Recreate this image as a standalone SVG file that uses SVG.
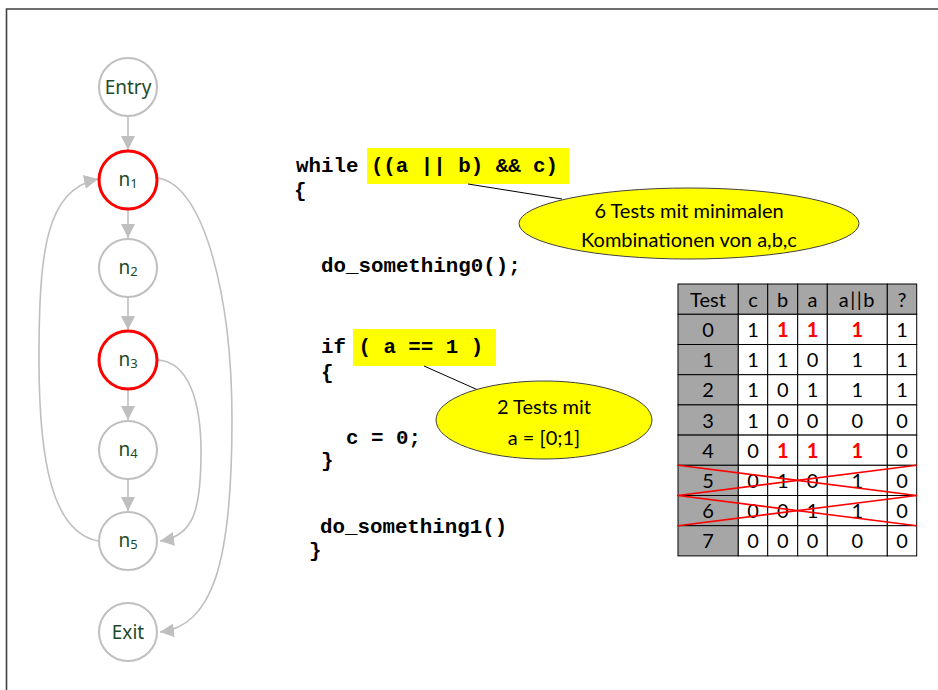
<svg xmlns="http://www.w3.org/2000/svg" width="938" height="690" viewBox="0 0 938 690">
  <defs>
    <marker id="arrow" markerUnits="userSpaceOnUse" markerWidth="15" markerHeight="15" refX="14" refY="7" orient="auto">
      <path d="M0,0 L14,7 L0,14 z" fill="#bfbfbf"/>
    </marker>
    <style>
      .node circle { fill: #ffffff; stroke: #bfbfbf; stroke-width: 2; }
      .node.hot circle { stroke: #ff0000; stroke-width: 3; }
      .node text { font-family: "Noto Sans", "Open Sans", sans-serif; font-size: 19px; fill: #1d4a2b; text-anchor: middle; }
      .node text .sub { font-size: 13px; }
      .edge { fill: none; stroke: #bfbfbf; stroke-width: 1.6; marker-end: url(#arrow); }
      .code { font-family: "Liberation Mono", "Courier New", monospace; font-weight: bold; font-size: 20.8px; fill: #000000; white-space: pre; }
      .hl { fill: #ffff00; }
      .bubble ellipse { fill: #ffff00; stroke: #404040; stroke-width: 1; }
      .bubble text { font-family: Lato, "Liberation Sans", sans-serif; font-size: 20px; fill: #000000; text-anchor: middle; }
      .leader { stroke: #000000; stroke-width: 1; }
      .tbl rect { stroke: #000000; stroke-width: 1; fill: #ffffff; }
      .tbl rect.g { fill: #a6a6a6; }
      .tbl text { font-family: Lato, "Liberation Sans", sans-serif; font-size: 20px; fill: #000000; text-anchor: middle; }
      .tbl text.r { fill: #ff0000; font-weight: bold; }
      .strike { stroke: #ff0000; stroke-width: 1.6; }
    </style>
  </defs>

  <!-- frame -->
  <path d="M938,9 H6.5 V690" fill="none" stroke="#404040" stroke-width="1.6"/>

  <!-- control flow edges -->
  <g id="edges">
    <line class="edge" x1="128" y1="117" x2="128" y2="150"/>
    <line class="edge" x1="128" y1="210" x2="128" y2="238"/>
    <line class="edge" x1="128" y1="298" x2="128" y2="330"/>
    <line class="edge" x1="128" y1="390" x2="128" y2="420"/>
    <line class="edge" x1="128" y1="480" x2="128" y2="511"/>
    <path class="edge" d="M98,541 C52,532 39,460 39,360 C39,250 46,190 98,179"/>
    <path class="edge" d="M158,178 C205,185 232,300 232,420 C232,565 212,626 160,632"/>
    <path class="edge" d="M158,360 C188,362 201,400 201,452 C201,512 193,536 160,541"/>
  </g>

  <!-- nodes -->
  <g id="entry" class="node"><circle cx="128" cy="87" r="29"/><text x="128" y="94">Entry</text></g>
  <g id="n1" class="node hot"><circle cx="128" cy="180" r="29"/><text x="128" y="186">n<tspan class="sub" dy="2">1</tspan></text></g>
  <g id="n2" class="node"><circle cx="128" cy="268" r="29"/><text x="128" y="274">n<tspan class="sub" dy="2">2</tspan></text></g>
  <g id="n3" class="node hot"><circle cx="128" cy="360" r="29"/><text x="128" y="366">n<tspan class="sub" dy="2">3</tspan></text></g>
  <g id="n4" class="node"><circle cx="128" cy="450" r="29"/><text x="128" y="456">n<tspan class="sub" dy="2">4</tspan></text></g>
  <g id="n5" class="node"><circle cx="128" cy="541" r="29"/><text x="128" y="547">n<tspan class="sub" dy="2">5</tspan></text></g>
  <g id="exit" class="node"><circle cx="128" cy="632" r="29"/><text x="128" y="639">Exit</text></g>

  <!-- source code -->
  <g id="code">
    <rect class="hl" x="367" y="148" width="202" height="36"/>
    <rect class="hl" x="353" y="329" width="143" height="37"/>
    <text class="code" x="296" y="172">while ((a || b) &amp;&amp; c)</text>
    <text class="code" x="294" y="197">{</text>
    <text class="code" x="321" y="272">do_something0();</text>
    <text class="code" x="321" y="353">if ( a == 1 )</text>
    <text class="code" x="321" y="379">{</text>
    <text class="code" x="346" y="444">c = 0;</text>
    <text class="code" x="321" y="467">}</text>
    <text class="code" x="320" y="533">do_something1()</text>
    <text class="code" x="309" y="557">}</text>
  </g>

  <!-- callouts -->
  <g id="callout-while" class="bubble">
    <line class="leader" x1="468" y1="184" x2="562" y2="199"/>
    <ellipse cx="689" cy="223.5" rx="170" ry="35.5"/>
    <text x="689" y="218">6 Tests mit minimalen</text>
    <text x="689" y="247">Kombinationen von a,b,c</text>
  </g>
  <g id="callout-if" class="bubble">
    <line class="leader" x1="424" y1="366" x2="478" y2="390"/>
    <ellipse cx="544" cy="420" rx="108" ry="39"/>
    <text x="544" y="414">2 Tests mit</text>
    <text x="544" y="445">a = [0;1]</text>
  </g>

  <!-- truth table -->
  <g id="table" class="tbl">
    <!-- header -->
    <rect class="g" x="678" y="284" width="60.3" height="30.3"/>
    <rect class="g" x="738.3" y="284" width="29.4" height="30.3"/>
    <rect class="g" x="767.7" y="284" width="30" height="30.3"/>
    <rect class="g" x="797.7" y="284" width="29.6" height="30.3"/>
    <rect class="g" x="827.3" y="284" width="60" height="30.3"/>
    <rect class="g" x="887.3" y="284" width="29.4" height="30.3"/>
    <text x="708" y="306.5">Test</text><text x="753" y="306.5">c</text><text x="782.7" y="306.5">b</text><text x="812.5" y="306.5">a</text><text x="857.3" y="306.5" letter-spacing="1.5">a||b</text><text x="902" y="306.5">?</text>

    <!-- body cells -->
    <g>
      <rect class="g" x="678" y="314.3" width="60.3" height="30.2"/><rect x="738.3" y="314.3" width="29.4" height="30.2"/><rect x="767.7" y="314.3" width="30" height="30.2"/><rect x="797.7" y="314.3" width="29.6" height="30.2"/><rect x="827.3" y="314.3" width="60" height="30.2"/><rect x="887.3" y="314.3" width="29.4" height="30.2"/>
      <rect class="g" x="678" y="344.5" width="60.3" height="30.2"/><rect x="738.3" y="344.5" width="29.4" height="30.2"/><rect x="767.7" y="344.5" width="30" height="30.2"/><rect x="797.7" y="344.5" width="29.6" height="30.2"/><rect x="827.3" y="344.5" width="60" height="30.2"/><rect x="887.3" y="344.5" width="29.4" height="30.2"/>
      <rect class="g" x="678" y="374.7" width="60.3" height="30.2"/><rect x="738.3" y="374.7" width="29.4" height="30.2"/><rect x="767.7" y="374.7" width="30" height="30.2"/><rect x="797.7" y="374.7" width="29.6" height="30.2"/><rect x="827.3" y="374.7" width="60" height="30.2"/><rect x="887.3" y="374.7" width="29.4" height="30.2"/>
      <rect class="g" x="678" y="404.9" width="60.3" height="30.2"/><rect x="738.3" y="404.9" width="29.4" height="30.2"/><rect x="767.7" y="404.9" width="30" height="30.2"/><rect x="797.7" y="404.9" width="29.6" height="30.2"/><rect x="827.3" y="404.9" width="60" height="30.2"/><rect x="887.3" y="404.9" width="29.4" height="30.2"/>
      <rect class="g" x="678" y="435.1" width="60.3" height="30.2"/><rect x="738.3" y="435.1" width="29.4" height="30.2"/><rect x="767.7" y="435.1" width="30" height="30.2"/><rect x="797.7" y="435.1" width="29.6" height="30.2"/><rect x="827.3" y="435.1" width="60" height="30.2"/><rect x="887.3" y="435.1" width="29.4" height="30.2"/>
      <rect class="g" x="678" y="465.3" width="60.3" height="30.2"/><rect x="738.3" y="465.3" width="29.4" height="30.2"/><rect x="767.7" y="465.3" width="30" height="30.2"/><rect x="797.7" y="465.3" width="29.6" height="30.2"/><rect x="827.3" y="465.3" width="60" height="30.2"/><rect x="887.3" y="465.3" width="29.4" height="30.2"/>
      <rect class="g" x="678" y="495.5" width="60.3" height="30.2"/><rect x="738.3" y="495.5" width="29.4" height="30.2"/><rect x="767.7" y="495.5" width="30" height="30.2"/><rect x="797.7" y="495.5" width="29.6" height="30.2"/><rect x="827.3" y="495.5" width="60" height="30.2"/><rect x="887.3" y="495.5" width="29.4" height="30.2"/>
      <rect class="g" x="678" y="525.7" width="60.3" height="30.2"/><rect x="738.3" y="525.7" width="29.4" height="30.2"/><rect x="767.7" y="525.7" width="30" height="30.2"/><rect x="797.7" y="525.7" width="29.6" height="30.2"/><rect x="827.3" y="525.7" width="60" height="30.2"/><rect x="887.3" y="525.7" width="29.4" height="30.2"/>
    </g>

    <!-- body values: Test, c, b, a, a||b, ? -->
    <text x="708" y="337">0</text><text x="753" y="337">1</text><text class="r" x="782.7" y="337">1</text><text class="r" x="812.5" y="337">1</text><text class="r" x="857.3" y="337">1</text><text x="902" y="337">1</text>
    <text x="708" y="367.2">1</text><text x="753" y="367.2">1</text><text x="782.7" y="367.2">1</text><text x="812.5" y="367.2">0</text><text x="857.3" y="367.2">1</text><text x="902" y="367.2">1</text>
    <text x="708" y="397.4">2</text><text x="753" y="397.4">1</text><text x="782.7" y="397.4">0</text><text x="812.5" y="397.4">1</text><text x="857.3" y="397.4">1</text><text x="902" y="397.4">1</text>
    <text x="708" y="427.6">3</text><text x="753" y="427.6">1</text><text x="782.7" y="427.6">0</text><text x="812.5" y="427.6">0</text><text x="857.3" y="427.6">0</text><text x="902" y="427.6">0</text>
    <text x="708" y="457.8">4</text><text x="753" y="457.8">0</text><text class="r" x="782.7" y="457.8">1</text><text class="r" x="812.5" y="457.8">1</text><text class="r" x="857.3" y="457.8">1</text><text x="902" y="457.8">0</text>
    <text x="708" y="488">5</text><text x="753" y="488">0</text><text x="782.7" y="488">1</text><text x="812.5" y="488">0</text><text x="857.3" y="488">1</text><text x="902" y="488">0</text>
    <text x="708" y="518.2">6</text><text x="753" y="518.2">0</text><text x="782.7" y="518.2">0</text><text x="812.5" y="518.2">1</text><text x="857.3" y="518.2">1</text><text x="902" y="518.2">0</text>
    <text x="708" y="548.4">7</text><text x="753" y="548.4">0</text><text x="782.7" y="548.4">0</text><text x="812.5" y="548.4">0</text><text x="857.3" y="548.4">0</text><text x="902" y="548.4">0</text>

    <!-- rows 5 and 6 struck out -->
    <line class="strike" x1="678" y1="465.3" x2="916.7" y2="495.5"/>
    <line class="strike" x1="678" y1="495.5" x2="916.7" y2="465.3"/>
    <line class="strike" x1="678" y1="495.5" x2="916.7" y2="525.7"/>
    <line class="strike" x1="678" y1="525.7" x2="916.7" y2="495.5"/>
  </g>
</svg>
